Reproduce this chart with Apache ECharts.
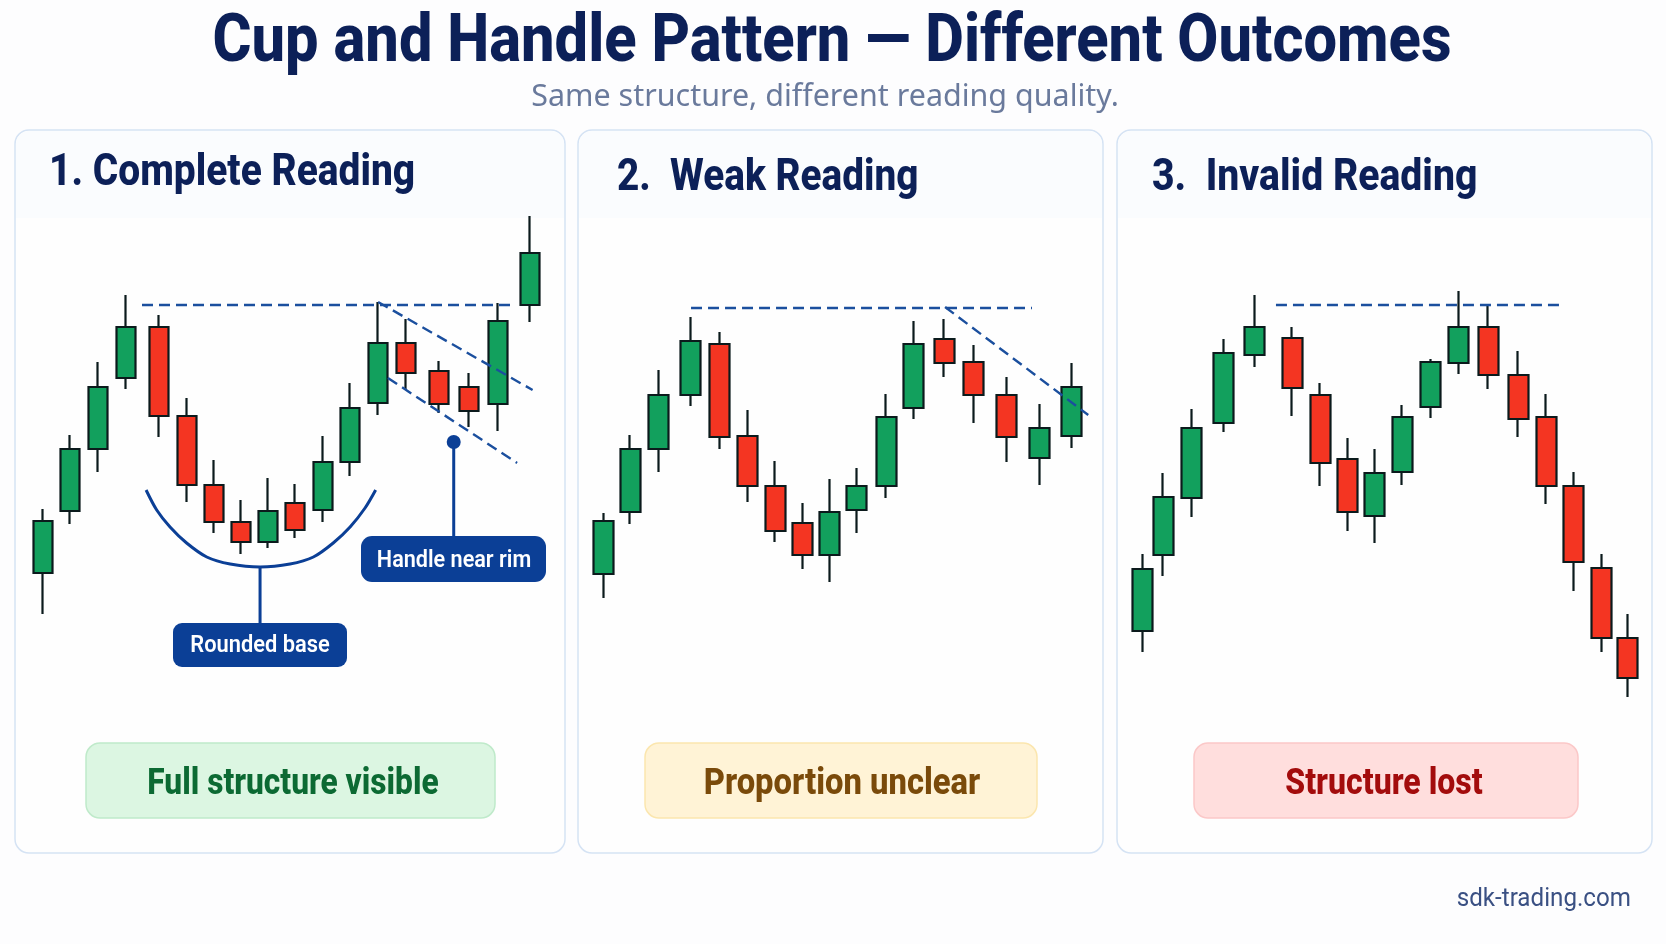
<!DOCTYPE html>
<html><head><meta charset="utf-8">
<style>html,body{margin:0;padding:0;background:#fdfdfe}#c{width:1666px;height:944px}</style>
<script src="https://cdn.jsdelivr.net/npm/echarts@6/dist/echarts.min.js"></script>
</head><body><div id="c"></div>
<script>
// Session number, open, close, low, high for each panel (price in arbitrary points)
const p1Session=[0,0.99,2.02,3.05,4.26,5.29,6.29,7.28,8.27,9.26,10.29,11.29,12.32,13.35,14.56,15.66,16.73,17.9];
const p1Open =[147,209,271,342,393,304,235,198,178,217,210,258,317,377,349,333,316,415];
const p1Close=[199,271,333,393,304,235,198,178,209,190,258,312,377,347,316,309,399,467];
const p1Low  =[106,196,248,331,283,218,187,166,172,182,198,244,305,330,307,293,289,398];
const p1High =[211,285,358,425,405,322,260,220,242,236,284,337,418,401,359,347,417,504];

const p2Session=[0,0.96,2,3.15,4.2,5.2,6.2,7.2,8.15,9.15,10.2,11.2,12.3,13.35,14.55,15.75,16.9];
const p2Open =[146,208,271,325,376,284,234,197,165,210,234,312,381,358,325,262,284];
const p2Close=[199,271,325,379,283,234,189,165,208,234,303,376,357,325,283,292,333];
const p2Low  =[122,196,248,314,271,218,178,151,138,187,222,301,343,297,258,235,272];
const p2High =[207,285,350,403,388,310,259,217,241,252,326,399,401,375,343,316,357];

const p3Session=[0,0.74,1.75,2.9,4,5.35,6.35,7.33,8.3,9.28,10.3,11.3,12.35,13.42,14.42,15.4,16.4,17.33];
const p3Open =[89,165,222,297,365,382,325,261,204,248,313,357,393,345,303,234,152,82];
const p3Close=[151,223,292,367,393,332,257,208,247,303,358,393,345,301,234,158,82,42];
const p3Low  =[68,144,203,288,353,304,234,189,177,235,302,346,331,283,216,129,68,23];
const p3High =[166,247,311,381,425,393,337,282,271,315,361,429,415,369,326,248,166,106];

// Reference lines: [session, price]
const p1Rim=[[3.64,415],[17.35,415]];
const p1HandleUpper=[[12.32,418],[18.0,330]];
const p1HandleLower=[[12.68,342],[17.43,257]];
const p1CupCurve=[[3.79,230],[4.18,210],[4.67,193],[5.28,177],[6.02,163],[6.88,156],[7.98,153],[9.08,156],[9.94,163],[10.67,177],[11.29,193],[11.84,212],[12.23,230]];
const p1CupStem=[[7.98,153],[7.98,96]];
const p1HandleStem=[[15.1,278],[15.1,183]];
const p1HandleDot=[[15.1,278]];
const p2Rim=[[3.16,412],[15.47,412]];
const p2HandleUpper=[[12.33,413],[17.5,305]];
const p3Rim=[[4.77,415],[15.07,415]];

const panelTitles=['1. Complete Reading','2.  Weak Reading','3.  Invalid Reading'];
const verdicts=['Full structure visible','Proportion unclear','Structure lost'];
const callouts=['Rounded base','Handle near rim'];
const mainTitle='Cup and Handle Pattern \u2014 Different Outcomes';
const subTitle='Same structure, different reading quality.';
const siteName='sdk-trading.com';

const GREEN='#12a05d',RED='#f43522',WICK='#0b1a1c',BLUE='#0b3f96',DASH='#1b4f9e',NAVY='#0c2058';
const FONT='Roboto, "Noto Sans", sans-serif';

function rows(s,o,c,l,h){return s.map((x,i)=>[x,o[i],c[i],l[i],h[i]]);}
function candle(idx,data,w){return {type:'candlestick',xAxisIndex:idx,yAxisIndex:idx,barWidth:w,z:3,silent:true,animation:false,data,
  itemStyle:{color:GREEN,color0:RED,borderColor:WICK,borderColor0:WICK,borderWidth:2.2}};}
function line(idx,data,opt){opt=opt||{};return {type:'line',xAxisIndex:idx,yAxisIndex:idx,data,symbol:'none',silent:true,animation:false,z:opt.z||4,
  smooth:opt.smooth||false,lineStyle:{color:opt.color||DASH,width:opt.width||2.4,type:opt.dash?[11,6]:'solid'}};}

const grids=[{left:15.8,top:200,width:544,height:520},{left:575.8,top:200,width:526.3,height:520},{left:1114.4,top:200,width:532,height:520}];
const xMax=[19,18,18];
const xAxes=grids.map((g,i)=>({gridIndex:i,type:'value',min:-1,max:xMax[i],show:false}));
const yAxes=grids.map((g,i)=>({gridIndex:i,type:'value',min:0,max:520,show:false}));

const series=[
 candle(0,rows(p1Session,p1Open,p1Close,p1Low,p1High),20),
 candle(1,rows(p2Session,p2Open,p2Close,p2Low,p2High),20.5),
 candle(2,rows(p3Session,p3Open,p3Close,p3Low,p3High),20.5),
 line(0,p1Rim,{dash:true}),line(0,p1HandleUpper,{dash:true}),line(0,p1HandleLower,{dash:true}),
 line(0,p1CupCurve,{smooth:0.3,color:BLUE,width:3}),
 line(0,p1CupStem,{color:BLUE,width:3}),line(0,p1HandleStem,{color:BLUE,width:3}),
 {type:'scatter',xAxisIndex:0,yAxisIndex:0,data:p1HandleDot,symbolSize:14,itemStyle:{color:BLUE,opacity:1},silent:true,animation:false,z:5},
 line(1,p2Rim,{dash:true}),line(1,p2HandleUpper,{dash:true}),
 line(2,p3Rim,{dash:true})
];

function txt(text,x,y,size,weight,fill,align,sx,family){
  return {type:'text',x,y,scaleX:sx||1,z:20,silent:true,style:{text,fontSize:size,fontWeight:weight,fontFamily:family||FONT,fill,align:align||'center',verticalAlign:'middle'}};
}
function box(x,y,w,h,r,fill,stroke,z,lw){
  return {type:'rect',x:0,y:0,z,silent:true,shape:{x,y,width:w,height:h,r},style:{fill,stroke,lineWidth:lw==null?1.5:lw}};
}
const cards=[[15,130,550,723],[578,130,525,723],[1117,130,535,723]];
const pills=[[86,743,409,75,'#dcf6e2','#bfeaca'],[645,743,392,75,'#fff3d6','#fbe6ae'],[1194,743,384,75,'#ffdedd','#fbc8c8']];
const pillInk=['#0c6a33','#7a4a0a','#a30c0c'];
const graphicEls=[];
cards.forEach(c=>{
  graphicEls.push(box(c[0],c[1],c[2],c[3],14,'#fefefe','#d5e3f4',0));
  graphicEls.push(box(c[0]+1,c[1]+1,c[2]-2,87,[13,13,0,0],'#fafcfe',null,1,0));
});
pills.forEach(p=>graphicEls.push(box(p[0],p[1],p[2],p[3],14,p[4],p[5],1)));
graphicEls.push(box(173,623,174,44,9,BLUE,null,10,0));
graphicEls.push(box(361,536,185,46,11,BLUE,null,10,0));
graphicEls.push(
  txt(mainTitle,832,44,67,800,NAVY,'center',0.89),
  txt(subTitle,825,97,30,400,'#6a7a9c','center',1.015,'"Noto Sans", sans-serif'),
  txt(panelTitles[0],49,174,44,800,NAVY,'left',0.885),
  txt(panelTitles[1],617,179,44,800,NAVY,'left',0.88),
  txt(panelTitles[2],1152,179,44,800,NAVY,'left',0.89),
  txt(verdicts[0],293,785,36,800,pillInk[0],'center',0.88),
  txt(verdicts[1],842,785,36,800,pillInk[1],'center',0.91),
  txt(verdicts[2],1384,785,36,800,pillInk[2],'center',0.89),
  txt(callouts[0],260,646,23,600,'#ffffff','center',0.95),
  txt(callouts[1],454,561,24,600,'#ffffff','center',0.9),
  txt(siteName,1631,899,26,400,'#3a5083','right',0.93,FONT)
);

const chart=echarts.init(document.getElementById('c'),null,{renderer:'canvas'});
chart.setOption({animation:false,backgroundColor:'#fdfdfe',grid:grids,xAxis:xAxes,yAxis:yAxes,series,graphic:{elements:graphicEls}});
</script></body></html>
